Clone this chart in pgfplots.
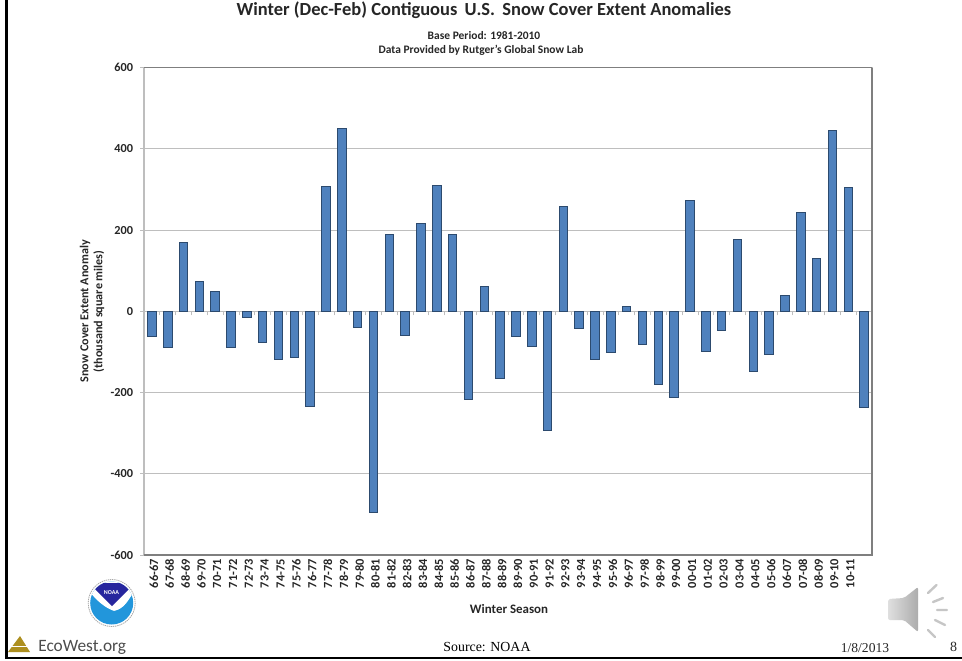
\documentclass[border=0pt]{standalone}
\usepackage{fontspec}
\setmainfont{Carlito}
\newfontfamily\serifcap{Liberation Serif}
\newfontfamily\ecofont{Carlito}
\usepackage{pgfplots}
\pgfplotsset{compat=1.18}
\definecolor{barfill}{HTML}{4F81BD}
\definecolor{baredge}{HTML}{2C4A6E}
\definecolor{gridc}{HTML}{BEBEBE}
\definecolor{framec}{HTML}{7F7F7F}
\begin{document}
\begin{tikzpicture}
\path[use as bounding box, fill=white] (0pt,0pt) rectangle (721.5pt,-495pt);
% tick marks on the zero line
\begin{axis}[
  at={(108pt,-416.25pt)}, anchor=south west, scale only axis,
  width=546pt, height=365.5pt,
  xmin=-0.5, xmax=45.5, ymin=-600, ymax=600,
  axis y line=none, axis x line=middle,
  axis line style={draw=gridc,line width=0.75pt,-},
  xtick={-0.5,0.5,...,45.5}, xticklabels={},
  tick align=outside, major tick length=3pt,
  tick style={draw=gridc,line width=0.6pt},
]
\addplot[draw=none, forget plot] coordinates {(0,0) (1,0)};
\end{axis}
\begin{axis}[
  at={(108pt,-416.25pt)}, anchor=south west, scale only axis,
  width=546pt, height=365.5pt,
  xmin=-0.5, xmax=45.5, ymin=-600, ymax=600,
  ybar, bar width=6.4pt, bar shift=0pt,
  axis line style={draw=gridc,line width=0.9pt},
  ytick={-600,-400,-200,0,200,400,600},
  yticklabels={-600,-400,-200,0,200,400,600},
  ymajorgrids, grid style={draw=gridc,line width=0.8pt},
  ytick pos=left, tick align=outside,
  ytick style={draw=gridc,line width=0.7pt}, major tick length=3pt,
  xtick={0,...,44},
  xtick style={draw=none},
  xticklabels={66-67,67-68,68-69,69-70,70-71,71-72,72-73,73-74,74-75,75-76,76-77,77-78,78-79,79-80,80-81,81-82,82-83,83-84,84-85,85-86,86-87,87-88,88-89,89-90,90-91,91-92,92-93,93-94,94-95,95-96,96-97,97-98,98-99,99-00,00-01,01-02,02-03,03-04,04-05,05-06,06-07,07-08,08-09,09-10,10-11},
  xticklabel pos=bottom,
  xticklabel style={rotate=90, anchor=east, font=\fontsize{9.3pt}{10pt}\bfseries, inner sep=0pt, yshift=-1.5pt, text=black!85},
  yticklabel style={font=\fontsize{9.2pt}{10pt}\bfseries, inner sep=0pt, xshift=-5pt, text=black!85},
  title={\fontsize{13.85pt}{15pt}\bfseries Winter (Dec-Feb) Contiguous\, U.S.\, Snow Cover Extent Anomalies},
  title style={at={(axis description cs:0.4670,1.1006)}, anchor=center, align=center, inner sep=0pt, text=black!85},
  xlabel={Winter Season},
  xlabel style={at={(axis description cs:0.5014,-0.1105)}, anchor=center, font=\fontsize{9.7pt}{10pt}\bfseries, inner sep=0pt, text=black!85},
  ylabel={Snow Cover Extent Anomaly\\(thousand square miles)},
  ylabel style={at={(axis description cs:-0.0714,0.5)}, anchor=center, rotate=0, align=center, font=\fontsize{9.1pt}{10.5pt}\bfseries, inner sep=0pt, text=black!85},
]
\addplot[fill=barfill, draw=baredge, line width=0.75pt] coordinates {
(0,-61) (1,-90) (2,170) (3,74) (4,50) (5,-90) (6,-14) (7,-77) (8,-118) (9,-113)
(10,-235) (11,307) (12,451) (13,-40) (14,-496) (15,188) (16,-59) (17,216) (18,310) (19,188)
(20,-217) (21,61) (22,-166) (23,-61) (24,-86) (25,-293) (26,258) (27,-43) (28,-118) (29,-101)
(30,11) (31,-81) (32,-180) (33,-213) (34,273) (35,-98) (36,-47) (37,178) (38,-148) (39,-107)
(40,39) (41,243) (42,130) (43,446) (44,306) (45,-237)};
\end{axis}
\begin{scope}[x=0.75pt,y=-0.75pt]
% subtitles
\node[inner sep=0pt,text=black!85,font=\fontsize{8.6pt}{10pt}\bfseries] at (484,36) {Base Period: 1981-2010};
\node[inner sep=0pt,text=black!85,font=\fontsize{8.6pt}{10pt}\bfseries] at (481,50) {Data Provided by Rutger's Global Snow Lab};
% plot frame, darker on top, right and bottom
\draw[framec,line width=0.9pt] (144,67.7)--(872,67.7);
\draw[framec,line width=1.2pt] (872,67.7)--(872,555)--(144,555);
% slide frame
\draw[black,line width=2.2pt] (6.5,0)--(6.5,658)--(962,658);
% NOAA logo
\fill[white] (111.7,603) circle (24.5);
\draw[gray!70,line width=0.6pt,dash pattern=on 1pt off 0.6pt] (111.7,603) circle (23.5);
\begin{scope}
\clip (111.7,603) circle (21.5);
\fill[cyan!75!blue!90] (88,580) rectangle (136,626);
\fill[white] (88,578) -- (90,592) .. controls (100,605) and (110,610) .. (117,612)
  .. controls (124,608) and (130,598) .. (136,588) -- (136,578) -- cycle;
\fill[cyan!75!blue!90] (104,610) .. controls (112,612) and (118,612) .. (126,604) -- (122,616) -- (106,616) -- cycle;
\fill[blue!55!black!85] (92,583) -- (130,583) -- (132,586)
  .. controls (124,594) and (118,600) .. (112,606)
  .. controls (106,600) and (100,594) .. (92,586) -- cycle;
\end{scope}
\node[white,font=\fontsize{4.5pt}{5pt}\bfseries,inner sep=0pt] at (111.5,593) {NOAA};
% EcoWest logo
\fill[brown!60!yellow!80!black] (8,652) -- (20,636) -- (30,652) -- cycle;
\fill[white] (8,645.5) rectangle (30,646.3);
\node[anchor=west,inner sep=0pt,text=black!70,font=\ecofont\fontsize{13pt}{15pt}\selectfont] at (38,647) {EcoWest.org};
% footer
\node[inner sep=0pt,font=\serifcap\fontsize{10.4pt}{12pt}\selectfont] at (487,647) {Source: NOAA};
\node[inner sep=0pt,font=\serifcap\fontsize{10.2pt}{12pt}\selectfont,text=black!85] at (865,648) {1/8/2013};
\node[inner sep=0pt,font=\serifcap\fontsize{10.5pt}{12pt}\selectfont,text=black!85] at (953.5,647) {8};
% speaker icon
\shade[left color=gray!25,right color=gray!65] (888,599) [rounded corners=1.5pt] -- (904,598) -- (918,587) -- (918,632) -- (904,620) -- (888,620) -- cycle;
\draw[gray!45,line width=1.8pt,line cap=round]
  (928,593)--(936.5,585) (933,602)--(943,598) (937,610)--(947,610)
  (935,620)--(945,625) (928,630)--(935,637);
\end{scope}
\end{tikzpicture}
\end{document}
